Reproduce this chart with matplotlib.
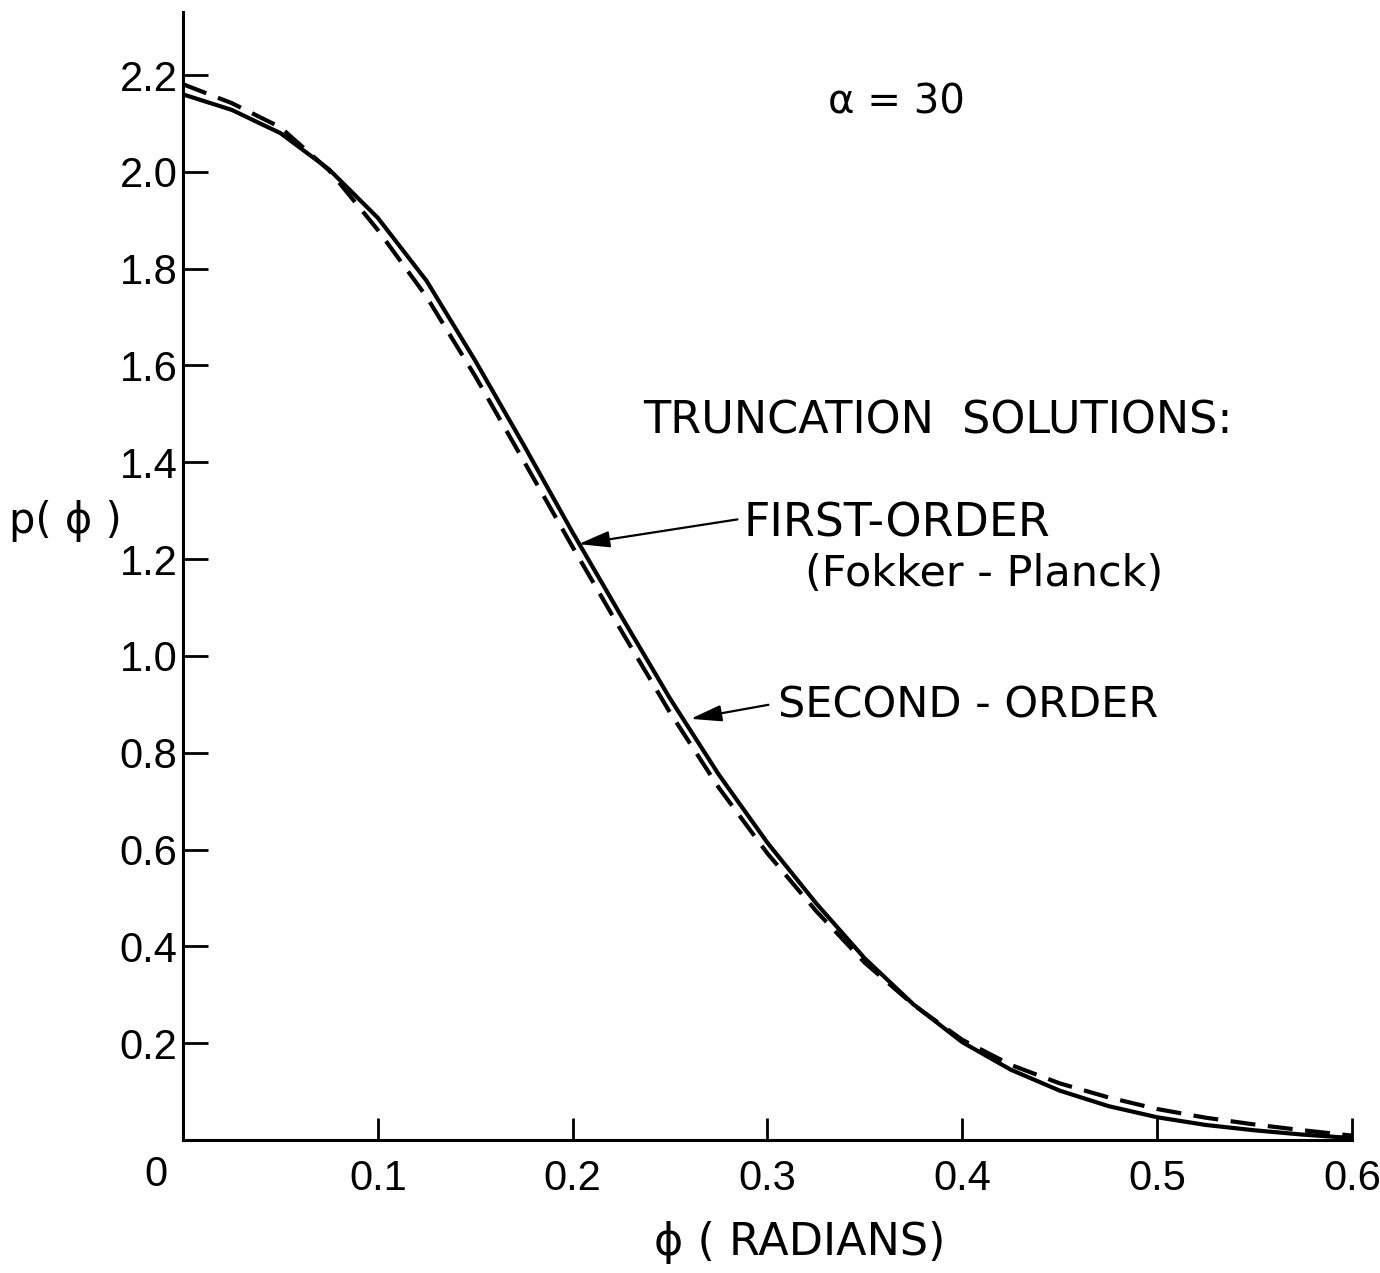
import numpy as np
import matplotlib.pyplot as plt

# datos: p(phi) para alpha = 30
phi_primer = [0.000, 0.025, 0.050, 0.075, 0.100, 0.125, 0.150, 0.175, 0.200, 0.225,
              0.250, 0.275, 0.300, 0.325, 0.350, 0.375, 0.400, 0.425, 0.450, 0.475,
              0.500, 0.525, 0.550, 0.575, 0.600]
p_primer = [2.160, 2.128, 2.080, 2.005, 1.905, 1.775, 1.610, 1.435, 1.255, 1.082,
            0.912, 0.755, 0.614, 0.489, 0.375, 0.280, 0.202, 0.145, 0.102, 0.070,
            0.047, 0.031, 0.020, 0.011, 0.004]

phi_segundo = [0.000, 0.025, 0.050, 0.075, 0.100, 0.125, 0.150, 0.175, 0.200, 0.225,
               0.250, 0.275, 0.300, 0.325, 0.350, 0.375, 0.400, 0.425, 0.450, 0.475,
               0.500, 0.525, 0.550, 0.575, 0.600]
p_segundo = [2.181, 2.142, 2.092, 2.003, 1.880, 1.742, 1.578, 1.402, 1.225, 1.052,
             0.883, 0.728, 0.592, 0.473, 0.366, 0.279, 0.207, 0.155, 0.117, 0.088,
             0.064, 0.046, 0.032, 0.020, 0.009]

ticks_x = [0.1, 0.2, 0.3, 0.4, 0.5, 0.6]
ticks_y = [0.2, 0.4, 0.6, 0.8, 1.0, 1.2, 1.4, 1.6, 1.8, 2.0, 2.2]

plt.rcParams['font.family'] = ['DejaVu Sans']

fig = plt.figure(figsize=(13.8, 12.73), dpi=100)
ax = fig.add_axes([0.1326, 0.1045, 0.847, 0.886])

ax.plot(phi_primer, p_primer, color='black', lw=3.0, solid_joinstyle='round')
ax.plot(phi_segundo, p_segundo, color='black', lw=3.0, dashes=(6, 3),
        dash_joinstyle='round')

ax.set_xlim(0, 0.6)
ax.set_ylim(0, 2.33)

for s in ['top', 'right']:
    ax.spines[s].set_visible(False)
for s in ['left', 'bottom']:
    ax.spines[s].set_linewidth(2.2)

ax.set_xticks(ticks_x)
ax.set_xticklabels([f"{v:.1f}" for v in ticks_x], family='Liberation Sans')
ax.set_yticks(ticks_y)
ax.set_yticklabels([f"{v:.1f}" for v in ticks_y], family='Liberation Sans')
ax.tick_params(axis='x', direction='in', length=16, width=2, pad=14, labelsize=30)
ax.tick_params(axis='y', direction='in', length=18, width=2, pad=4, labelsize=30)

# origen
ax.text(-0.014, -0.072, "0", fontsize=30, family='Liberation Sans', ha='center', va='center')

ax.text(-0.0606, 1.278, "p( ϕ )", fontsize=30, ha='center', va='center')
ax.text(0.3166, -0.212, "ϕ ( RADIANS)", fontsize=32, ha='center', va='center')

ax.text(0.331, 2.144, "α = 30", fontsize=29, ha='left', va='center')
ax.text(0.236, 1.485, "TRUNCATION  SOLUTIONS:", fontsize=32, ha='left', va='center')
ax.text(0.2877, 1.272, "FIRST-ORDER", fontsize=33, ha='left', va='center')
ax.text(0.3195, 1.169, "(Fokker - Planck)", fontsize=31, ha='left', va='center')
ax.text(0.3056, 0.897, "SECOND - ORDER", fontsize=31, ha='left', va='center')

flecha = dict(arrowstyle='-|>,head_length=0.95,head_width=0.25', color='black',
              lw=1.6, mutation_scale=20, shrinkA=0, shrinkB=0)
ax.annotate("", xy=(0.203, 1.231), xytext=(0.2846, 1.282), arrowprops=flecha)
ax.annotate("", xy=(0.2605, 0.870), xytext=(0.3005, 0.899), arrowprops=flecha)

plt.savefig("out.png", dpi=100)
